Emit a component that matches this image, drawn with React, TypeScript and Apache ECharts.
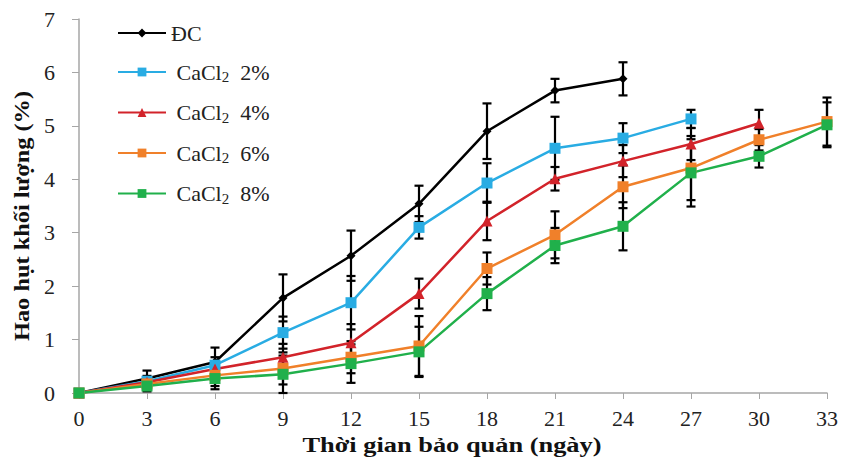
import React, { useEffect, useRef } from "react";
import * as echarts from "echarts";

const days = [0, 3, 6, 9, 12, 15, 18, 21, 24, 27, 30, 33];
const seriesNames = ["ĐC", "CaCl2 2%", "CaCl2 4%", "CaCl2 6%", "CaCl2 8%"];
const dcValues = [0, 0.27, 0.58, 1.78, 2.57, 3.54, 4.9, 5.66, 5.88];
const ca2Values = [0, 0.22, 0.52, 1.13, 1.69, 3.1, 3.93, 4.58, 4.77, 5.13];
const ca4Values = [0, 0.2, 0.45, 0.67, 0.94, 1.86, 3.22, 4.01, 4.34, 4.66, 5.05];
const ca6Values = [0, 0.17, 0.33, 0.46, 0.67, 0.88, 2.33, 2.96, 3.86, 4.21, 4.74, 5.08];
const ca8Values = [0, 0.13, 0.27, 0.35, 0.55, 0.77, 1.86, 2.76, 3.12, 4.12, 4.43, 5.02];
const dcErr = [0, 0.15, 0.27, 0.44, 0.47, 0.34, 0.52, 0.22, 0.31];
const ca2Err = [0, 0.1, 0.15, 0.3, 0.5, 0.21, 0.37, 0.59, 0.28, 0.17];
const ca4Err = [0, 0.08, 0.12, 0.25, 0.35, 0.28, 0.36, 0.22, 0.3, 0.3, 0.25];
const ca6Err = [0, 0.06, 0.2, 0.3, 0.3, 0.56, 0.3, 0.44, 0.4, 0.6, 0.2, 0.45];
const ca8Err = [0, 0.1, 0.2, 0.35, 0.36, 0.47, 0.31, 0.33, 0.45, 0.63, 0.21, 0.42];
const colors = ["#000000", "#29ace3", "#d2232a", "#f0802a", "#20b04b"];
const symbols = ["diamond", "rect", "triangle", "rect", "rect"];
const symbolSizes = [9, 11, 11, 11, 11];
const xTitle = "Thời gian bảo quản (ngày)";
const yTitle = "Hao hụt khối lượng (%)";

const allValues = [dcValues, ca2Values, ca4Values, ca6Values, ca8Values];
const allErr = [dcErr, ca2Err, ca4Err, ca6Err, ca8Err];

const FONT = "Liberation Serif";

export default function App() {
  const ref = useRef<HTMLDivElement>(null);
  useEffect(() => {
    document.body.style.margin = "0";
    const chart = echarts.init(ref.current!, null, { renderer: "svg" });
    const lineSeries = seriesNames.map((name, i) => ({
      name,
      type: "line",
      data: allValues[i].map((v, j) => [days[j], v]),
      symbol: symbols[i],
      symbolSize: symbolSizes[i],
      itemStyle: { color: colors[i] },
      lineStyle: { color: colors[i], width: 2.5 },
      z: 3,
    }));
    const errSeries = seriesNames.map((name, i) => ({
      type: "custom",
      name: name + " err",
      z: 2,
      data: allValues[i].map((v, j) => [days[j], v, allErr[i][j]]),
      renderItem: (params: any, api: any) => {
        const x = api.value(0);
        const y = api.value(1);
        const e = api.value(2);
        if (!e) return null;
        const top = api.coord([x, y + e]);
        const bot = api.coord([x, y - e]);
        const hw = 4.5;
        const st = { stroke: "#000", lineWidth: 2.2 };
        return {
          type: "group",
          children: [
            { type: "line", shape: { x1: top[0], y1: top[1], x2: bot[0], y2: bot[1] }, style: st },
            { type: "line", shape: { x1: top[0] - hw, y1: top[1], x2: top[0] + hw, y2: top[1] }, style: st },
            { type: "line", shape: { x1: bot[0] - hw, y1: bot[1], x2: bot[0] + hw, y2: bot[1] }, style: st },
          ],
        };
      },
    }));
    chart.setOption({
      animation: false,
      grid: { left: 79, right: 12, top: 19, bottom: 68, containLabel: false },
      graphic: [
        {
          type: "text",
          x: 452,
          y: 444,
          scaleX: 1.2,
          style: {
            text: xTitle,
            fontFamily: FONT,
            fontSize: 22,
            fontWeight: "bold",
            fill: "#111",
            align: "center",
            verticalAlign: "middle",
          },
        },
        {
          type: "text",
          x: 22,
          y: 216,
          rotation: Math.PI / 2,
          scaleX: 1.16,
          style: {
            text: yTitle,
            fontFamily: FONT,
            fontSize: 21,
            fontWeight: "bold",
            fill: "#111",
            align: "center",
            verticalAlign: "middle",
          },
        },
      ],
      legend: {
        orient: "vertical",
        left: 112,
        top: 17,
        itemGap: 17,
        itemWidth: 48,
        itemHeight: 11,
        data: seriesNames,
        textStyle: {
          fontFamily: FONT,
          fontSize: 22,
          color: "#222",
          rich: {
            s: { fontFamily: FONT, fontSize: 15, color: "#222", padding: [10, 0, 0, 0] },
            n: { fontFamily: FONT, fontSize: 22, color: "#222" },
          },
        },
        formatter: (name: string) =>
          name.startsWith("CaCl2")
            ? "{n| CaCl}{s|2}{n|  " + name.slice(6) + "}"
            : "{n|" + name + "}",
      },
      xAxis: {
        type: "value",
        min: 0,
        max: 33,
        interval: 3,
        axisLine: { lineStyle: { color: "#a6a6a6", width: 1.5 } },
        axisTick: { show: true, length: 6, lineStyle: { color: "#a6a6a6" } },
        axisLabel: { fontFamily: FONT, fontSize: 22, color: "#222", margin: 14 },
        splitLine: { show: false },
      },
      yAxis: {
        type: "value",
        min: 0,
        max: 7,
        interval: 1,
        axisLine: { show: true, lineStyle: { color: "#a6a6a6", width: 1.5 } },
        axisTick: { show: true, length: 7, lineStyle: { color: "#a6a6a6" } },
        axisLabel: { fontFamily: FONT, fontSize: 22, color: "#222", margin: 24 },
        splitLine: { show: false },
      },
      series: [...errSeries, ...lineSeries],
    });
    return () => chart.dispose();
  }, []);
  return <div ref={ref} style={{ width: 841, height: 461 }} />;
}
